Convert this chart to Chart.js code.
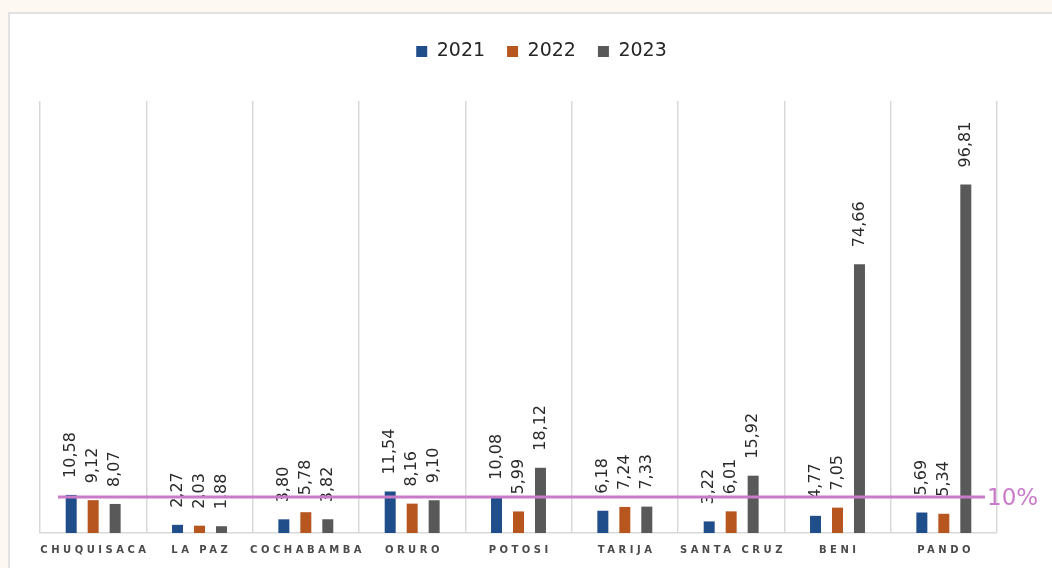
<!DOCTYPE html>
<html>
<head>
<meta charset="utf-8">
<script src="https://cdn.jsdelivr.net/npm/chart.js@4.4.1/dist/chart.umd.min.js"></script>
<style>
  html, body { margin: 0; padding: 0; background: #fdf8f2; width: 1052px; height: 568px; overflow: hidden; }
  #panel { position: absolute; left: 8px; top: 12px; right: 0; bottom: 0; background: #ffffff; border-left: 2px solid #e2e2e2; border-top: 2px solid #e2e2e2; }
  #wrap { position: absolute; left: 0; top: 0; width: 1052px; height: 568px; }
</style>
</head>
<body>
<div id="panel"></div>
<div id="wrap"><canvas id="c"></canvas></div>
<script>
const categories = ['CHUQUISACA', 'LA PAZ', 'COCHABAMBA', 'ORURO', 'POTOSI', 'TARIJA', 'SANTA CRUZ', 'BENI', 'PANDO'];
const seriesNames = ['2021', '2022', '2023'];
const values2021 = [10.58, 2.27, 3.80, 11.54, 10.08, 6.18, 3.22, 4.77, 5.69];
const values2022 = [9.12, 2.03, 5.78, 8.16, 5.99, 7.24, 6.01, 7.05, 5.34];
const values2023 = [8.07, 1.88, 3.82, 9.10, 18.12, 7.33, 15.92, 74.66, 96.81];
const thresholdValue = 10;
const thresholdLabel = '10%';
const yMax = 120;

const colors = ['#1f4e8a', '#b8561f', '#595959'];

const legendShift = {
  id: 'legendShift',
  beforeInit(chart) {
    const fit = chart.legend.fit;
    chart.legend.fit = function () {
      fit.bind(chart.legend)();
      this.height += 30;
    };
  },
  afterLayout(chart) {
    chart.legend.left += 23;
    chart.legend.right += 23;
  }
};

const overlay = {
  id: 'overlay',
  afterDatasetsDraw(chart) {
    const ctx = chart.ctx;
    const x = chart.scales.x, y = chart.scales.y;
    // data labels
    ctx.save();
    ctx.font = '16px "DejaVu Sans"';
    ctx.fillStyle = '#2a2a2a';
    ctx.textAlign = 'left';
    ctx.textBaseline = 'middle';
    chart.data.datasets.forEach((ds, di) => {
      const meta = chart.getDatasetMeta(di);
      meta.data.forEach((bar, i) => {
        const txt = ds.data[i].toFixed(2).replace('.', ',');
        ctx.save();
        ctx.translate(bar.x, bar.y - 17);
        ctx.rotate(-Math.PI / 2);
        ctx.fillText(txt, 0, 0);
        ctx.restore();
      });
    });
    ctx.restore();
    // threshold line
    const ty = y.getPixelForValue(thresholdValue);
    ctx.save();
    ctx.strokeStyle = '#c97ac9';
    ctx.lineWidth = 3;
    ctx.beginPath();
    ctx.moveTo(x.left + 18, ty);
    ctx.lineTo(x.right - 12, ty);
    ctx.stroke();
    ctx.font = '23px "DejaVu Sans"';
    ctx.fillStyle = '#c97ac9';
    ctx.textAlign = 'left';
    ctx.textBaseline = 'middle';
    ctx.fillText(thresholdLabel, x.right - 10, ty + 2);
    ctx.restore();
    // category labels with letter spacing
    ctx.save();
    ctx.font = 'bold 10px "DejaVu Sans"';
    ctx.fillStyle = '#4a4a4a';
    ctx.textAlign = 'center';
    ctx.textBaseline = 'middle';
    if ('letterSpacing' in ctx) ctx.letterSpacing = '3.5px';
    categories.forEach((c, i) => {
      const px = x.getPixelForValue(i);
      ctx.fillText(c, px + 1.75, x.top + 17);
    });
    ctx.restore();
  }
};

new Chart(document.getElementById('c'), {
  type: 'bar',
  data: {
    labels: categories,
    datasets: [
      { label: seriesNames[0], data: values2021, backgroundColor: colors[0] },
      { label: seriesNames[1], data: values2022, backgroundColor: colors[1] },
      { label: seriesNames[2], data: values2023, backgroundColor: colors[2] }
    ]
  },
  options: {
    responsive: true,
    maintainAspectRatio: false,
    animation: false,
    categoryPercentage: 0.62,
    barPercentage: 0.5,
    layout: { padding: { left: 40, right: 55, top: 20, bottom: 1 } },
    plugins: {
      legend: {
        display: true,
        position: 'top',
        labels: {
          boxWidth: 11,
          boxHeight: 11,
          padding: 22,
          color: '#262626',
          font: { family: '"DejaVu Sans"', size: 19 }
        }
      },
      tooltip: { enabled: false }
    },
    scales: {
      x: {
        grid: { display: true, offset: true, color: '#d9d9d9', lineWidth: 1.5, drawTicks: false },
        border: { display: true, color: '#d9d9d9', width: 1.5 },
        ticks: { color: 'rgba(0,0,0,0)', font: { size: 10, weight: 'bold', family: '"DejaVu Sans"' }, padding: 11, maxRotation: 0, autoSkip: false }
      },
      y: {
        display: false,
        min: 0,
        max: yMax
      }
    }
  },
  plugins: [legendShift, overlay]
});
</script>
</body>
</html>
